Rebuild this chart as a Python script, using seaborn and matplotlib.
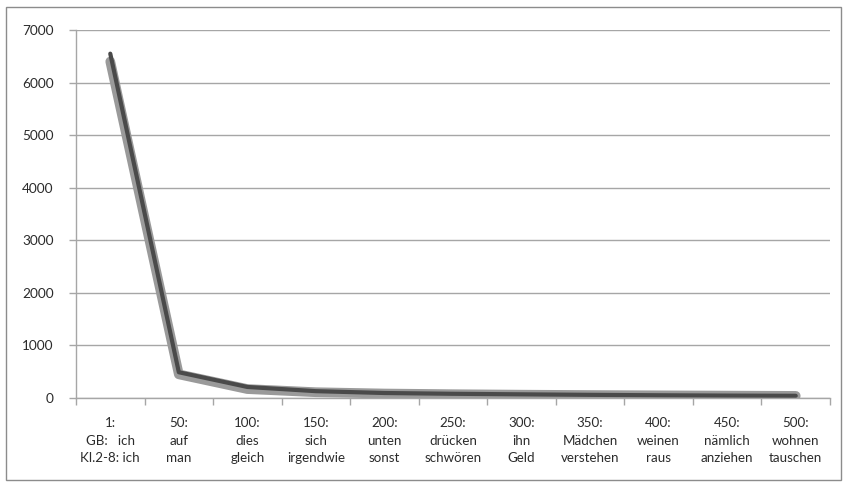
import pandas as pd
import matplotlib
matplotlib.use("Agg")
import matplotlib.pyplot as plt
import seaborn as sns
from matplotlib.patches import Rectangle

sns.set_theme(style="white")
plt.rcParams['font.family'] = ['Lato', 'DejaVu Sans']

# x categories (rank: GB word / Kl.2-8 word)
labels = [
    "1:\nGB:   ich\nKl.2-8: ich",
    "50:\nauf\nman",
    "100:\ndies\ngleich",
    "150:\nsich\nirgendwie",
    "200:\nunten\nsonst",
    "250:\ndrücken\nschwören",
    "300:\nihn\nGeld",
    "350:\nMädchen\nverstehen",
    "400:\nweinen\nraus",
    "450:\nnämlich\nanziehen",
    "500:\nwohnen\ntauschen",
]
gb_values = [6550, 490, 210, 130, 95, 80, 70, 60, 52, 46, 42]
kl_values = [6400, 450, 170, 110, 85, 72, 63, 56, 50, 45, 40]

pos = list(range(len(labels)))
df = pd.DataFrame({"pos": pos + pos,
                   "freq": kl_values + gb_values,
                   "series": ["Kl.2-8"] * len(pos) + ["GB"] * len(pos)})

fig = plt.figure(figsize=(8.48, 4.88), dpi=100)
ax = fig.add_axes([76 / 848, 1 - 398 / 488, 754 / 848, 368 / 488])

sns.lineplot(data=df[df.series == "Kl.2-8"], x="pos", y="freq", color="#9a9a9a",
             linewidth=7, solid_capstyle="round", solid_joinstyle="round", ax=ax)
sns.lineplot(data=df[df.series == "GB"], x="pos", y="freq", color="#4a4a4a",
             linewidth=3, solid_capstyle="round", solid_joinstyle="round", ax=ax)

ax.set_xlim(-0.5, len(labels) - 0.5)
ax.set_ylim(0, 7000)
ax.set_yticks(range(0, 7001, 1000))
ax.yaxis.grid(True, color="#a6a6a6", linewidth=1)
ax.set_axisbelow(True)

ax.set_xticks(pos)
ax.set_xticklabels(labels, fontsize=9.6, color="#2b2b2b", linespacing=1.55)
ax.set_xticks([p - 0.5 for p in pos] + [len(labels) - 0.5], minor=True)
ax.tick_params(axis="x", which="major", length=0, pad=14)
ax.tick_params(axis="x", which="minor", length=5, color="#a6a6a6", width=1, bottom=True)
ax.tick_params(axis="y", which="major", length=5, color="#a6a6a6", width=1, left=True,
               labelsize=9.8, labelcolor="#2b2b2b", pad=11)
ax.set_xlabel("")
ax.set_ylabel("")

for side in ["top", "right"]:
    ax.spines[side].set_visible(False)
for side in ["left", "bottom"]:
    ax.spines[side].set_color("#a6a6a6")
    ax.spines[side].set_linewidth(1)

fig.patches.append(Rectangle((6 / 848, 1 - 480 / 488), 835 / 848, 473 / 488,
                             transform=fig.transFigure, fill=False,
                             edgecolor="#8c8c8c", linewidth=1))

fig.savefig("out.png", dpi=100)
